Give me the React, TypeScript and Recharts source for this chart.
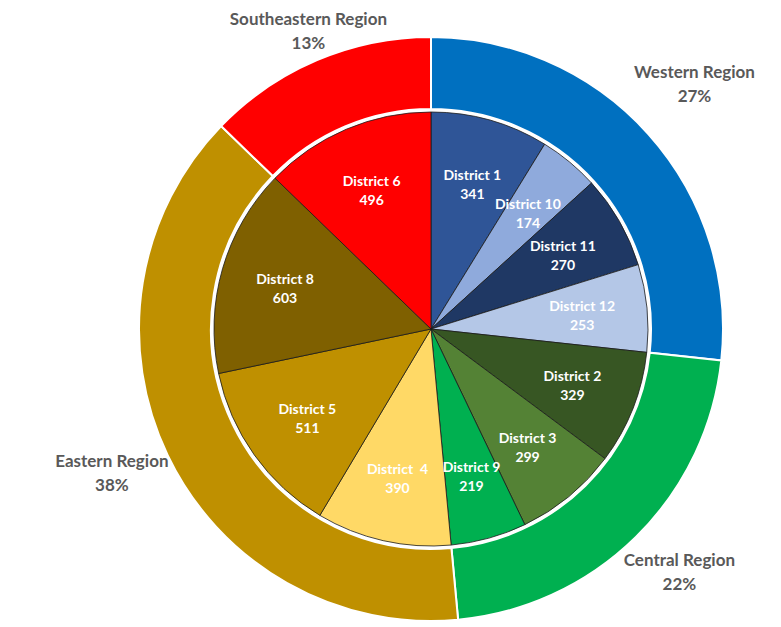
import { PieChart, Pie, Cell } from "recharts"

const districtNames = [
  "District 1", "District 10", "District 11", "District 12",
  "District 2", "District 3", "District 9",
  "District  4", "District 5", "District 8",
  "District 6",
]
const districtValues = [341, 174, 270, 253, 329, 299, 219, 390, 511, 603, 496]
const districtRegion = [0, 0, 0, 0, 1, 1, 1, 2, 2, 2, 3]

const regionNames = ["Western Region", "Central Region", "Eastern Region", "Southeastern Region"]
const regionShares = ["27%", "22%", "38%", "13%"]

const districtColors = [
  "#2F5597", "#8FAADC", "#1F3864", "#B4C7E7",
  "#375623", "#548235", "#00B050",
  "#FFD966", "#BF9000", "#7F6000",
  "#FF0000",
]
const regionColors = ["#0070C0", "#00B050", "#BF9000", "#FF0000"]

const districtData = districtNames.map((name, i) => ({ name, value: districtValues[i] }))
const regionData = regionNames.map((name, r) => ({
  name,
  share: regionShares[r],
  value: districtValues.reduce((s, v, i) => (districtRegion[i] === r ? s + v : s), 0),
}))

const RADIAN = Math.PI / 180
const FONT = "Lato, 'Open Sans', sans-serif"

const renderDistrictLabel = (props: any) => {
  const { cx, cy, midAngle, outerRadius, payload } = props
  const r = outerRadius * 0.7
  const x = cx + r * Math.cos(-midAngle * RADIAN)
  const y = cy + r * Math.sin(-midAngle * RADIAN)
  return (
    <text
      x={x}
      y={y}
      textAnchor="middle"
      fill="#ffffff"
      fontFamily={FONT}
      fontWeight={700}
      fontSize={14}
      style={{ whiteSpace: "pre" }}
    >
      <tspan x={x} dy={-3}>{payload.name}</tspan>
      <tspan x={x} dy={19}>{payload.value}</tspan>
    </text>
  )
}

const renderRegionLabel = (props: any) => {
  const { cx, cy, midAngle, outerRadius, payload } = props
  const cos = Math.cos(-midAngle * RADIAN)
  const sin = Math.sin(-midAngle * RADIAN)
  let r = outerRadius + 62
  // keep the label block inside the top of the chart
  if (cy + r * sin < 40) r = (40 - cy) / sin
  const x = cx + r * cos
  const y = cy + r * sin - 10
  return (
    <text
      x={x}
      y={y}
      textAnchor="middle"
      fill="#595959"
      fontFamily={FONT}
      fontWeight={700}
      fontSize={17}
    >
      <tspan x={x} dy={-5}>{payload.name}</tspan>
      <tspan x={x} dy={24}>{payload.share}</tspan>
    </text>
  )
}

export default function App() {
  return (
    <div style={{ position: "absolute", left: 0, top: 0, width: 781, height: 627, background: "#ffffff" }}>
      <PieChart width={781} height={627} margin={{ top: 0, right: 0, bottom: 0, left: 0 }}>
        <Pie
          data={regionData}
          dataKey="value"
          cx={431}
          cy={329}
          innerRadius={220}
          outerRadius={292}
          startAngle={90}
          endAngle={-270}
          stroke="#ffffff"
          strokeWidth={2}
          label={renderRegionLabel}
          labelLine={false}
          isAnimationActive={false}
        >
          {regionData.map((d, i) => (
            <Cell key={d.name} fill={regionColors[i]} />
          ))}
        </Pie>
        <Pie
          data={districtData}
          dataKey="value"
          cx={431}
          cy={329}
          innerRadius={0}
          outerRadius={217}
          startAngle={90}
          endAngle={-270}
          stroke="#1a1a1a"
          strokeWidth={0.8}
          label={renderDistrictLabel}
          labelLine={false}
          isAnimationActive={false}
        >
          {districtData.map((d, i) => (
            <Cell key={d.name} fill={districtColors[i]} />
          ))}
        </Pie>
      </PieChart>
    </div>
  )
}
